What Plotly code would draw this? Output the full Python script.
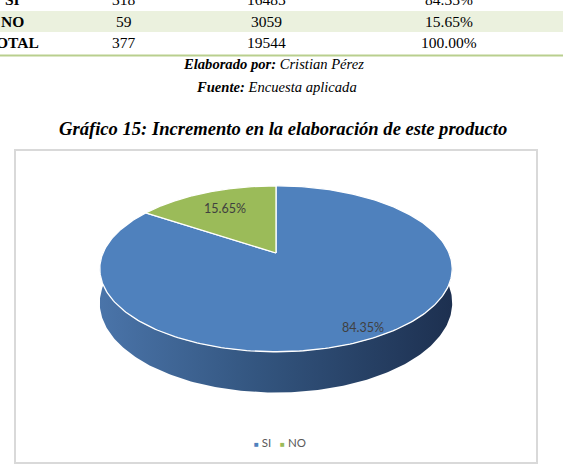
import numpy as np
import plotly.graph_objects as go

# ---------------- data ----------------
categories = ["SI", "NO"]
frequencies = [318, 59]
populations = [16485, 3059]
percentages = [84.35, 15.65]
total_label = "TOTAL"
total_frequency = 377
total_population = 19544
total_percentage = 100.00

pie_colors = ["#4F81BD", "#9BBB59"]

W, H_PAGE = 563, 469

# ---------------- pseudo-3D pie geometry (layout constants) ----------------
CX, CY = 276.0, 253.0   # apex of the pie on the page
RX, RY = 173.0, 80.0    # radii of the top face
PERSP = 0.19            # perspective strength
DEPTH = 33.0            # thickness of the pie


def proj(theta_deg, r=1.0, drop=0.0):
    t = np.radians(theta_deg)
    X = r * np.cos(t)
    Z = r * np.sin(t)
    s = 1.0 / (1.0 + PERSP * Z)
    return CX + RX * X * s, CY - RY * Z * s + drop * s


def py2paper(py):
    return 1 - py / H_PAGE


def px2paper(px):
    return px / W


fig = go.Figure()

vals = np.array(percentages, dtype=float)
fracs = vals / vals.sum()
cum = np.concatenate([[0], np.cumsum(fracs)])
starts = 90 - 360 * cum[:-1]
ends = 90 - 360 * cum[1:]

# sides (front, visible part only)
for i in range(len(categories)):
    hi, lo = starts[i], ends[i]
    for k in range(-2, 3):
        f_lo, f_hi = -180 + 360 * k, 0 + 360 * k
        a, b = max(lo, f_lo), min(hi, f_hi)
        if b - a <= 0.01:
            continue
        th = np.linspace(a, b, 200)
        tx, ty = proj(th)
        bx, by = proj(th[::-1], drop=DEPTH)
        xs = np.concatenate([tx, bx, tx[:1]])
        ys = np.concatenate([ty, by, ty[:1]])
        if i == 0:
            cs = [[0, "#4a74a9"], [0.45, "#33557f"], [1, "#1d3050"]]
        else:
            cs = [[0, "#86a74c"], [1, "#55692e"]]
        fig.add_trace(go.Scatter(
            x=xs, y=ys, mode="lines", fill="toself",
            fillgradient=dict(type="horizontal", colorscale=cs),
            line=dict(width=0), hoverinfo="skip", showlegend=False))

# top faces
for i in range(len(categories)):
    th = np.linspace(starts[i], ends[i], 300)
    ax, ay = proj(th)
    xs = np.concatenate([[CX], ax, [CX]])
    ys = np.concatenate([[CY], ay, [CY]])
    fig.add_trace(go.Scatter(
        x=xs, y=ys, mode="lines", fill="toself",
        fillcolor=pie_colors[i], line=dict(color="white", width=1.3),
        hoverinfo="skip", showlegend=False))

# data labels
label_r = [0.9, 0.70]
for i in range(len(categories)):
    mid = (starts[i] + ends[i]) / 2
    lx, ly = proj(mid, r=label_r[i])
    fig.add_annotation(
        x=px2paper(float(lx)), y=py2paper(float(ly)), xref="paper", yref="paper",
        text=f"{percentages[i]:.2f}%", showarrow=False,
        font=dict(family="Lato", size=12.5, color="#404040"),
        xanchor="center", yanchor="middle")

# legend
leg_parts = []
for c, col in zip(categories, pie_colors):
    leg_parts.append(f'<span style="color:{col};font-size:8px">■</span> {c}')
fig.add_annotation(
    x=px2paper(280), y=py2paper(442), xref="paper", yref="paper",
    text="   ".join(leg_parts), showarrow=False,
    font=dict(family="Lato", size=11.5, color="#595959"),
    xanchor="center", yanchor="middle")

# chart frame
fig.add_shape(type="rect", xref="x", yref="y", x0=15, x1=537, y0=150, y1=463,
              line=dict(color="#d9d9d9", width=2), fillcolor="rgba(0,0,0,0)", layer="below")

# ---------------- table fragment at the top ----------------
fig.add_shape(type="rect", xref="x", yref="y", x0=0, x1=W, y0=11, y1=32,
              line=dict(width=0), fillcolor="#EBF1DE", layer="below")
fig.add_shape(type="line", xref="x", yref="y", x0=0, x1=W, y0=55.5, y1=55.5,
              line=dict(color="#b9cf8e", width=2))

col_x = [12, 124, 266, 449]
rows = [[categories[i], str(frequencies[i]), str(populations[i]), f"{percentages[i]:.2f}%"]
        for i in range(len(categories))]
rows.append([total_label, str(total_frequency), str(total_population), f"{total_percentage:.2f}%"])
row_y = [-1, 21, 43]
for r, yy in zip(rows, row_y):
    for j, (cell, xx) in enumerate(zip(r, col_x)):
        txt = f"<b>{cell}</b>" if j == 0 else cell
        fig.add_annotation(
            x=px2paper(xx), y=py2paper(yy), xref="paper", yref="paper",
            text=txt, showarrow=False,
            font=dict(family="Liberation Serif", size=15.5, color="#000000"),
            xanchor="center", yanchor="middle")

# captions and title
fig.add_annotation(
    x=px2paper(273), y=py2paper(64), xref="paper", yref="paper",
    text="<b><i>Elaborado por:</i></b><i> Cristian Pérez</i>", showarrow=False,
    font=dict(family="Liberation Serif", size=14.6, color="#000000"),
    xanchor="center", yanchor="middle")
fig.add_annotation(
    x=px2paper(276), y=py2paper(87), xref="paper", yref="paper",
    text="<b><i>Fuente:</i></b><i> Encuesta aplicada</i>", showarrow=False,
    font=dict(family="Liberation Serif", size=14.6, color="#000000"),
    xanchor="center", yanchor="middle")
fig.add_annotation(
    x=px2paper(283), y=py2paper(128), xref="paper", yref="paper",
    text="<b><i>Gráfico 15: Incremento en la elaboración de este producto</i></b>",
    showarrow=False,
    font=dict(family="Liberation Serif", size=18.6, color="#000000"),
    xanchor="center", yanchor="middle")

fig.update_layout(
    width=W, height=H_PAGE,
    margin=dict(l=0, r=0, t=0, b=0),
    paper_bgcolor="white", plot_bgcolor="white",
    xaxis=dict(range=[0, W], visible=False, fixedrange=True, domain=[0, 1]),
    yaxis=dict(range=[H_PAGE, 0], visible=False, fixedrange=True, domain=[0, 1]),
    showlegend=False,
)

fig.write_html("out.html", config={"displayModeBar": False})
